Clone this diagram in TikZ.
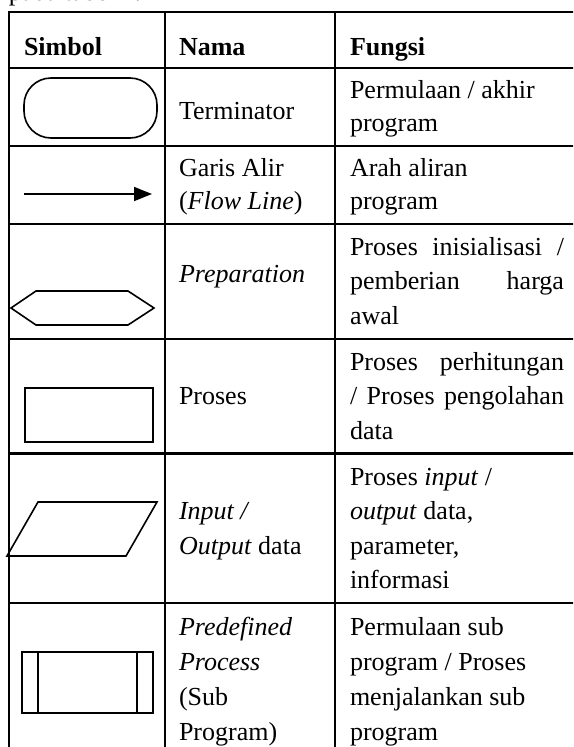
\documentclass[tikz,border=0pt]{standalone}
\usepackage{fontspec}
\setmainfont{Liberation Serif}
\usetikzlibrary{arrows.meta}
\begin{document}
\begin{tikzpicture}[x=1pt,y=-1pt,
  grid/.style={line width=2.2pt, line cap=rect},
  symb/.style={draw, line width=1.6pt, line join=miter},
  txt/.style={anchor=base west, inner sep=0pt, outer sep=0pt, font=\fontsize{26}{35}\selectfont},
  hd/.style={txt, font=\fontsize{26}{35}\selectfont\bfseries}]
\useasboundingbox (0,0) rectangle (573,747);
\clip (0,0) rectangle (573,747);
\fill[white] (0,0) rectangle (573,747);
% partial text above the table
\node[txt] (intro) at (9,0.5) {pada tabel 2.1};
% table rules
\draw[grid] (9,12) -- (590,12);
\foreach \yy in {68,146,224,339,453.5,603} {\draw[grid] (9,\yy) -- (590,\yy);}
\foreach \xx in {9,165,335} {\draw[grid] (\xx,12) -- (\xx,760);}
% header
\node[hd] (h1) at (24,55) {Simbol};
\node[hd] (h2) at (179,55) {Nama};
\node[hd] (h3) at (350,55) {Fungsi};
% row 1 terminator
\draw[symb, rounded corners=27pt] (24,78) rectangle (157,138);
\node[txt] (n1) at (179,119) {Terminator};
\node[txt] (f1a) at (350,98) {Permulaan / akhir};
\node[txt] (f1b) at (350,131) {program};
% row 2 flow line
\coordinate (a1) at (24,194);
\coordinate (a2) at (152,194);
\draw[line width=1.6pt, -{Triangle[length=18pt,width=14pt]}] (a1) -- (a2);
\node[txt] (n2a) at (179,176) {Garis Alir};
\node[txt] (n2b) at (179,209) {(\textit{Flow Line})};
\node[txt] (f2a) at (350,176) {Arah aliran};
\node[txt] (f2b) at (350,209) {program};
% row 3 preparation
\draw[symb] (11,308) -- (36,291) -- (128,291) -- (154,308) -- (128,325) -- (36,325) -- cycle;
\node[txt] (n3) at (179,282) {\textit{Preparation}};
\node[txt] (f3a) at (350,255) {\hbox to 214pt{Proses\hfill inisialisasi\hfill /}};
\node[txt] (f3b) at (350,289.5) {\hbox to 214pt{pemberian\hfill harga}};
\node[txt] (f3c) at (350,324) {awal};
% row 4 proses
\draw[symb] (25,388) rectangle (153,442);
\node[txt] (n4) at (179,404.5) {Proses};
\node[txt] (f4a) at (350,370) {\hbox to 214pt{Proses\hfill perhitungan}};
\node[txt] (f4b) at (350,404.5) {\hbox to 214pt{/\hfill Proses\hfill pengolahan}};
\node[txt] (f4c) at (350,439) {data};
% row 5 input/output
\draw[symb] (38,502) -- (157,502) -- (126,556) -- (7,556) -- cycle;
\node[txt] (n5a) at (179,519.5) {\textit{Input /}};
\node[txt] (n5b) at (179,554) {\textit{Output} data};
\node[txt] (f5a) at (350,485) {Proses \textit{input} /};
\node[txt] (f5b) at (350,519.5) {\textit{output} data,};
\node[txt] (f5c) at (350,554) {parameter,};
\node[txt] (f5d) at (350,588.5) {informasi};
% row 6 predefined process
\draw[symb] (22,652) rectangle (153,713);
\draw[symb] (38,652) -- (38,713);
\draw[symb] (137,652) -- (137,713);
\node[txt] (n6a) at (179,635) {\textit{Predefined}};
\node[txt] (n6b) at (179,670) {\textit{Process}};
\node[txt] (n6c) at (179,705) {(Sub};
\node[txt] (n6d) at (179,740) {Program)};
\node[txt] (f6a) at (350,635) {Permulaan sub};
\node[txt] (f6b) at (350,670) {program / Proses};
\node[txt] (f6c) at (350,705) {menjalankan sub};
\node[txt] (f6d) at (350,740) {program};
\end{tikzpicture}
\end{document}
